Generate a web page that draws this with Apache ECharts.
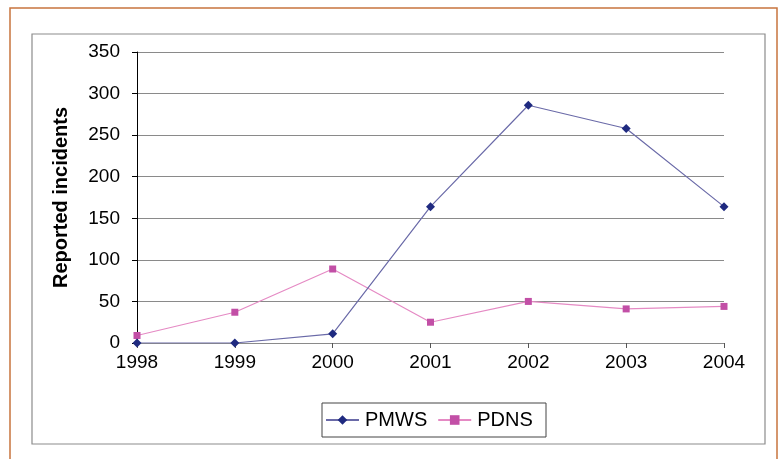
<!DOCTYPE html>
<html>
<head>
<meta charset="utf-8">
<script src="https://cdn.jsdelivr.net/npm/echarts@6/dist/echarts.min.js"></script>
<style>
    html, body { margin: 0; padding: 0; background: #fff; }
    #chart { width: 782px; height: 459px; }
</style>
</head>
<body>
<div id="chart"></div>
<script>
var years = ['1998', '1999', '2000', '2001', '2002', '2003', '2004']
var pmws = [0, 0, 11, 164, 286, 258, 164]
var pdns = [9, 37, 89, 25, 50, 41, 44]
var yTicks = { min: 0, max: 350, interval: 50 }

var fontFam = '"Liberation Sans", Arial, sans-serif'
var gridColor = '#8a8a8a'

var option = {
    backgroundColor: '#fff',
    animation: false,
    graphic: [
        // outer orange frame
        { type: 'rect', shape: { x: 10, y: 8, width: 767, height: 470 }, style: { fill: 'none', stroke: '#c8743e', lineWidth: 1.5 }, z: 0 },
        // inner chart frame
        { type: 'rect', shape: { x: 32, y: 34, width: 733, height: 410 }, style: { fill: '#fff', stroke: '#8c8c8c', lineWidth: 1.2 }, z: 0 },
        // legend frame
        { type: 'rect', shape: { x: 322, y: 403, width: 224, height: 34 }, style: { fill: '#fff', stroke: '#444', lineWidth: 1 }, z: 1 }
    ],
    grid: {
        left: 137,
        right: 58,
        top: 52,
        bottom: 116,
        show: true,
        borderColor: '#dcdcdc',
        borderWidth: 1,
        backgroundColor: 'transparent'
    },
    legend: {
        left: 325,
        top: 410,
        padding: 0,
        itemGap: 10,
        itemWidth: 33,
        itemHeight: 12,
        textStyle: { fontFamily: fontFam, fontSize: 20, color: '#000', padding: [0, 0, 0, 1] },
        data: ['PMWS', 'PDNS']
    },
    xAxis: {
        type: 'category',
        boundaryGap: false,
        data: years,
        axisLine: { show: true, lineStyle: { color: gridColor, width: 1 } },
        axisTick: { show: true, alignWithLabel: true, length: 5, lineStyle: { color: '#555' } },
        axisLabel: { fontFamily: fontFam, fontSize: 19, color: '#000', margin: 10 },
        splitLine: { show: false }
    },
    yAxis: {
        type: 'value',
        min: yTicks.min,
        max: yTicks.max,
        interval: yTicks.interval,
        name: 'Reported incidents',
        nameLocation: 'middle',
        nameGap: 66,
        nameTextStyle: { fontFamily: fontFam, fontSize: 20, fontWeight: 'bold', color: '#000' },
        axisLine: { show: true, lineStyle: { color: '#000', width: 1 } },
        axisTick: { show: true, length: 5, lineStyle: { color: '#000' } },
        axisLabel: { fontFamily: fontFam, fontSize: 19, color: '#000', margin: 17 },
        splitLine: { show: true, lineStyle: { color: gridColor, width: 1.2 } }
    },
    series: [
        {
            name: 'PMWS',
            type: 'line',
            data: pmws,
            symbol: 'diamond',
            symbolSize: 9,
            lineStyle: { color: '#6a6aa8', width: 1.2 },
            itemStyle: { color: '#1f2a80' },
            z: 3
        },
        {
            name: 'PDNS',
            type: 'line',
            data: pdns,
            symbol: 'rect',
            symbolSize: 7,
            lineStyle: { color: '#e58ac4', width: 1.2 },
            itemStyle: { color: '#c24fa6' },
            z: 2
        }
    ]
}

var myChart = echarts.init(document.getElementById('chart'))
myChart.setOption(option)
</script>
</body>
</html>
